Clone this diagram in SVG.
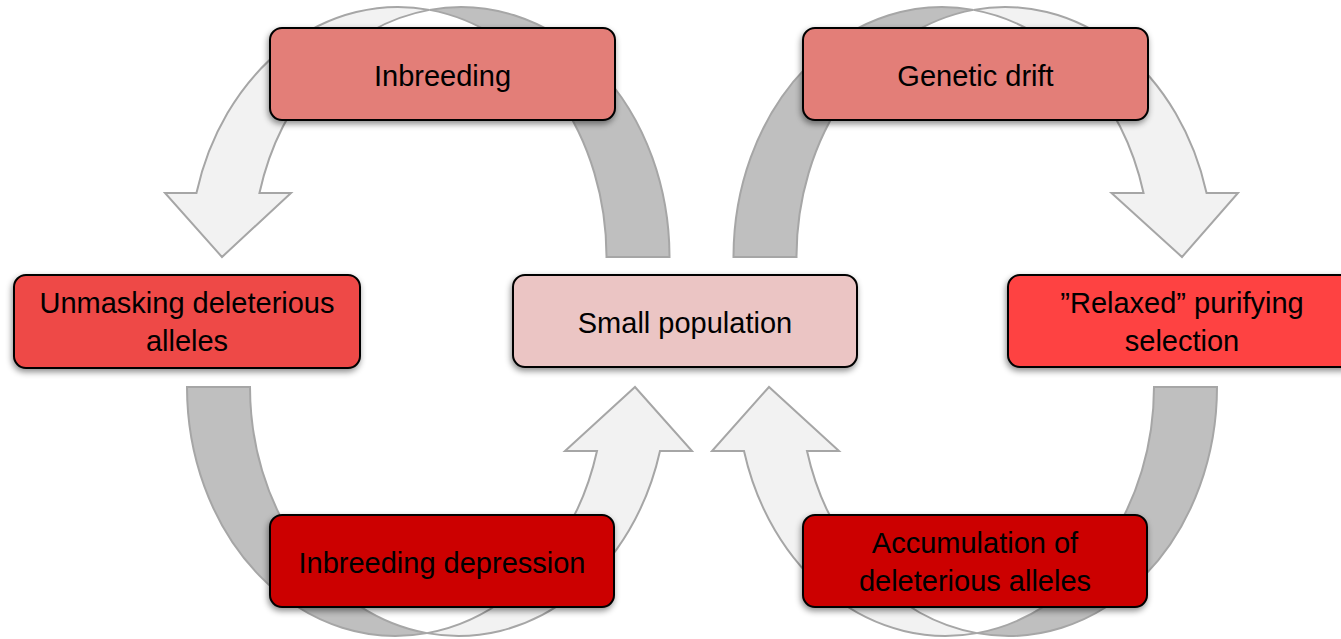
<svg xmlns="http://www.w3.org/2000/svg" width="1341" height="639" viewBox="0 0 1341 639">
  <style>
    .front { fill: #f2f2f2; stroke: #a6a6a6; stroke-width: 2; stroke-linejoin: miter; }
    .back { fill: #bfbfbf; stroke: #a6a6a6; stroke-width: 2; stroke-linejoin: miter; }
    .box { stroke: #000; stroke-width: 2; filter: url(#shadow); }
    .label { font-family: "Liberation Sans", Arial, sans-serif; font-size: 29px; fill: #000; text-anchor: middle; }
  </style>
  <defs>
    <filter id="shadow" x="-10%" y="-20%" width="120%" height="150%">
      <feDropShadow dx="-1" dy="3" stdDeviation="3" flood-color="#000" flood-opacity="0.45"/>
    </filter>
  </defs>
  <rect width="1341" height="639" fill="#fff"/>

  <!-- curved ribbon arrows linking the cycle -->
  <g id="connectors">
    <!-- upper left: over the top, down towards the unmasking box -->
    <path class="back" d="M 429.5 9.87 A 208.5 250 0 0 1 669.5 257 L 606.5 257 A 208.5 250 0 0 0 429.5 9.87 Z"/>
    <path class="front" d="M 259.45 193 A 208.5 250 0 0 1 429.5 9.87 A 208.5 250 0 0 0 196.45 193 L 165 193 L 222 257 L 291 193 Z"/>
    <!-- upper right: over the top, down towards relaxed selection -->
    <path class="back" d="M 973.5 9.87 A 208.5 250 0 0 0 733.5 257 L 796.5 257 A 208.5 250 0 0 1 973.5 9.87 Z"/>
    <path class="front" d="M 1143.55 193 A 208.5 250 0 0 0 973.5 9.87 A 208.5 250 0 0 1 1206.55 193 L 1238 193 L 1182 257 L 1111.5 193 Z"/>
    <!-- lower left: under the bottom, up into small population -->
    <path class="back" d="M 187 387 A 208.5 249 0 0 0 427 633.14 A 208.5 249 0 0 1 250 387 Z"/>
    <path class="front" d="M 597 451 A 208.5 249 0 0 1 427 633.14 A 208.5 249 0 0 0 660 451 L 692 451 L 635 387 L 565 451 Z"/>
    <!-- lower right: under the bottom, up into small population -->
    <path class="back" d="M 1217 387 A 208.5 249 0 0 1 977 633.14 A 208.5 249 0 0 0 1154 387 Z"/>
    <path class="front" d="M 807 451 A 208.5 249 0 0 0 977 633.14 A 208.5 249 0 0 1 744 451 L 712 451 L 769 387 L 839 451 Z"/>
  </g>

  <g id="inbreeding">
    <rect class="box" x="270" y="28" width="345" height="92" rx="12" fill="#e37e78"/>
    <text class="label" x="442.5" y="85.5">Inbreeding</text>
  </g>

  <g id="genetic-drift">
    <rect class="box" x="803" y="28" width="345" height="92" rx="12" fill="#e37e78"/>
    <text class="label" x="975.5" y="85.5">Genetic drift</text>
  </g>

  <g id="unmasking">
    <rect class="box" x="14" y="275" width="346" height="93" rx="12" fill="#ee4a46"/>
    <text class="label" x="187" y="313">Unmasking deleterious</text>
    <text class="label" x="187" y="351">alleles</text>
  </g>

  <g id="small-population">
    <rect class="box" x="513" y="275" width="344" height="92" rx="12" fill="#ebc5c4"/>
    <text class="label" x="685" y="332.5">Small population</text>
  </g>

  <g id="relaxed-selection">
    <rect class="box" x="1008" y="275" width="348" height="92" rx="12" fill="#fe4343"/>
    <text class="label" x="1182" y="313">”Relaxed” purifying</text>
    <text class="label" x="1182" y="351">selection</text>
  </g>

  <g id="inbreeding-depression">
    <rect class="box" x="270" y="515" width="344" height="92" rx="12" fill="#cc0000"/>
    <text class="label" x="442" y="572.5">Inbreeding depression</text>
  </g>

  <g id="accumulation">
    <rect class="box" x="803" y="515" width="344" height="92" rx="12" fill="#cc0000"/>
    <text class="label" x="975" y="553">Accumulation of</text>
    <text class="label" x="975" y="591">deleterious alleles</text>
  </g>
</svg>
